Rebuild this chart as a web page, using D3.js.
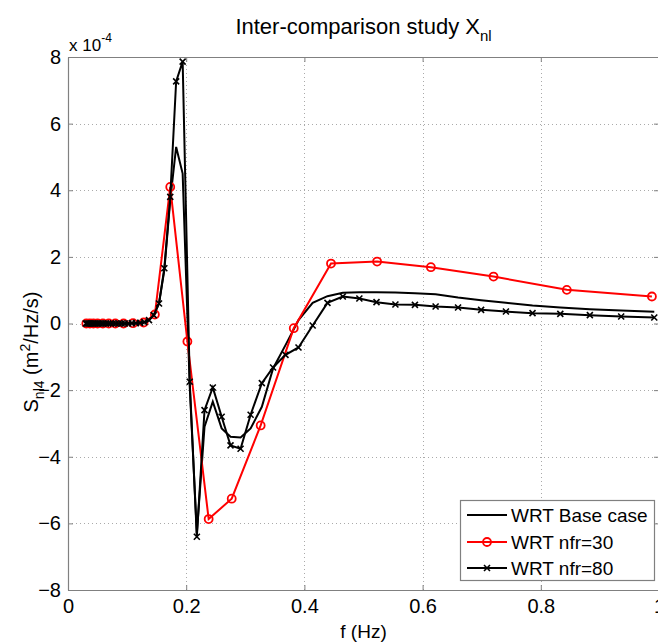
<!DOCTYPE html>
<html>
<head>
<meta charset="utf-8">
<script src="https://cdn.jsdelivr.net/npm/d3@7/dist/d3.min.js"></script>
<style>
  body { margin: 0; background: #fff; }
  text { font-family: "Liberation Sans", Arial, sans-serif; fill: #000; }
</style>
</head>
<body>
<script>
// frequency grids (Hz)
var freqFine = [0.030,0.032,0.034,0.036,0.038,0.040,0.043,0.045,0.048,0.051,0.054,0.057,0.060,0.064,0.068,0.072,0.076,0.081,0.086,0.091,0.096,
  0.102,0.108,0.115,0.122,0.129,0.137,0.145,0.154,0.163,0.173,
  0.183,0.194,0.206,0.218,0.231,0.245,0.260,0.275,0.292,0.309,
  0.328,0.347,0.368,0.390,0.414,0.439,0.465,0.493,0.522,0.554,
  0.587,0.622,0.660,0.699,0.741,0.786,0.833,0.883,0.936,0.992];
var freqCoarse = [0.031,0.037,0.043,0.050,0.059,0.069,0.080,0.094,0.110,0.128,0.147,0.173,0.202,0.238,0.277,0.326,0.382,0.445,0.523,0.614,0.720,0.844,0.988];

// Snl4 values, units of 1e-4 m^2/Hz/s
var baseCase = [0,0,0,0,0,0,0,0,0,0,0,0,0,0,0,0,0,0,0,0,0,
  0,0.01,0.01,0.02,0.04,0.1,0.25,0.6,1.6,3.7,
  5.3,4.5,-1.9,-6.3,-3.1,-2.35,-3.15,-3.4,-3.42,-3.15,
  -2.5,-1.35,-0.65,0.1,0.62,0.82,0.92,0.94,0.94,0.93,
  0.91,0.88,0.78,0.70,0.62,0.54,0.48,0.43,0.39,0.35];
var nfr30 = [0,0,0,0,0,0,0,0,0.01,0.03,0.27,4.1,-0.54,-5.87,-5.26,-3.06,-0.14,1.8,1.86,1.69,1.41,1.01,0.81];
var nfr80 = [0,0,0,0,0,0,0,0,0,0,0,0,0,0,0,0,0,0,0,0,0,
  0,0.01,0.01,0.02,0.04,0.1,0.25,0.6,1.66,3.8,
  7.27,7.86,-1.75,-6.4,-2.6,-1.92,-2.8,-3.66,-3.76,-2.74,
  -1.79,-1.32,-0.94,-0.72,-0.06,0.62,0.81,0.75,0.64,0.57,
  0.56,0.51,0.48,0.41,0.36,0.31,0.29,0.25,0.21,0.18];

var xTicks = [0, 0.2, 0.4, 0.6, 0.8, 1];
var yTicks = [-8, -6, -4, -2, 0, 2, 4, 6, 8];
var legendLabels = ["WRT Base case", "WRT nfr=30", "WRT nfr=80"];

var W = 658, H = 644;
// plot box (don't call these top/left: window.top is read-only)
var pL = 68, pR = 659, pT = 57, pB = 590;

var svg = d3.select("body").append("svg").attr("width", W).attr("height", H);

var x = d3.scaleLinear().domain([0, 1]).range([pL, pR]);
var y = d3.scaleLinear().domain([-8, 8]).range([pB, pT]);

// grid
var grid = svg.append("g").attr("stroke", "#aaa").attr("stroke-width", 1).attr("stroke-dasharray", "1,3");
grid.selectAll(".gx").data(xTicks.slice(1, -1)).enter().append("line")
  .attr("x1", d => Math.round(x(d)) + 0.5).attr("x2", d => Math.round(x(d)) + 0.5)
  .attr("y1", pT).attr("y2", pB);
grid.selectAll(".gy").data(yTicks.slice(1, -1)).enter().append("line")
  .attr("y1", d => Math.round(y(d)) + 0.5).attr("y2", d => Math.round(y(d)) + 0.5)
  .attr("x1", pL).attr("x2", pR);

// axes (ticks inside, like matlab)
var axB = d3.axisBottom(x).tickValues(xTicks).tickSizeInner(-5).tickSizeOuter(0).tickPadding(9).tickFormat(d3.format("~g"));
var axL = d3.axisLeft(y).tickValues(yTicks).tickSizeInner(-5).tickSizeOuter(0).tickPadding(7).tickFormat(d3.format("~g"));
var axT = d3.axisTop(x).tickValues(xTicks).tickSizeInner(-5).tickSizeOuter(0).tickFormat("");
var axR = d3.axisRight(y).tickValues(yTicks).tickSizeInner(-5).tickSizeOuter(0).tickFormat("");

function styleAxis(g) {
  g.select(".domain").attr("stroke", "#808080").attr("stroke-width", 1.2);
  g.selectAll(".tick line").attr("stroke", "#808080");
  g.selectAll(".tick text").style("font-size", "20px").attr("fill", "#000");
}
svg.append("g").attr("transform", "translate(0," + pB + ")").call(axB).call(styleAxis);
svg.append("g").attr("transform", "translate(" + pL + ",0)").call(axL).call(styleAxis);
svg.append("g").attr("transform", "translate(0," + pT + ")").call(axT).call(styleAxis);
svg.append("g").attr("transform", "translate(" + pR + ",0)").call(axR).call(styleAxis);

// clip
svg.append("clipPath").attr("id", "plotclip").append("rect")
  .attr("x", pL).attr("y", pT - 2).attr("width", pR - pL).attr("height", pB - pT + 4);
var plot = svg.append("g").attr("clip-path", "url(#plotclip)");

var line = d3.line().x(d => x(d[0])).y(d => y(d[1]));
var baseData = d3.zip(freqFine, baseCase);
var d30 = d3.zip(freqCoarse, nfr30);
var d80 = d3.zip(freqFine, nfr80);

plot.append("path").datum(baseData).attr("d", line)
  .attr("fill", "none").attr("stroke", "#000").attr("stroke-width", 2);

plot.append("path").datum(d30).attr("d", line)
  .attr("fill", "none").attr("stroke", "#ff0000").attr("stroke-width", 2);
plot.selectAll(".c30").data(d30).enter().append("circle")
  .attr("cx", d => x(d[0])).attr("cy", d => y(d[1])).attr("r", 4)
  .attr("fill", "none").attr("stroke", "#ff0000").attr("stroke-width", 1.8);

plot.append("path").datum(d80).attr("d", line)
  .attr("fill", "none").attr("stroke", "#000").attr("stroke-width", 2);
var s = 3;
plot.selectAll(".x80").data(d80).enter().append("path")
  .attr("d", d => {
    var cx = x(d[0]), cy = y(d[1]);
    return "M" + (cx - s) + "," + (cy - s) + "L" + (cx + s) + "," + (cy + s) +
           "M" + (cx - s) + "," + (cy + s) + "L" + (cx + s) + "," + (cy - s);
  })
  .attr("stroke", "#000").attr("stroke-width", 1.6);

// title
var title = svg.append("text").attr("x", (pL + pR) / 2).attr("y", 34)
  .attr("text-anchor", "middle").style("font-size", "22px");
title.append("tspan").text("Inter-comparison study X");
title.append("tspan").attr("dy", 7).style("font-size", "15px").text("nl");

// exponent
var expo = svg.append("text").attr("x", pL + 1).attr("y", 51).style("font-size", "17px");
expo.append("tspan").text("x 10");
expo.append("tspan").attr("dy", -9).style("font-size", "12px").text("-4");

// axis labels
svg.append("text").attr("x", (pL + pR) / 2).attr("y", 638)
  .attr("text-anchor", "middle").style("font-size", "19px").text("f (Hz)");

var yl = svg.append("text").attr("transform", "translate(38,352) rotate(-90)")
  .attr("text-anchor", "middle").style("font-size", "20px");
yl.append("tspan").text("S");
yl.append("tspan").attr("dy", 6).style("font-size", "14px").text("nl4");
yl.append("tspan").attr("dy", -6).text(" (m");
yl.append("tspan").attr("dy", -8).style("font-size", "14px").text("2");
yl.append("tspan").attr("dy", 8).text("/Hz/s)");

// legend
var lg = svg.append("g");
lg.append("rect").attr("x", 460.5).attr("y", 500.5).attr("width", 194).attr("height", 80)
  .attr("fill", "#fff").attr("stroke", "#808080").attr("stroke-width", 1.2);
var rowsY = [515, 542, 568];
var colors = ["#000", "#ff0000", "#000"];
legendLabels.forEach(function(lab, i) {
  var yy = rowsY[i];
  lg.append("line").attr("x1", 467).attr("x2", 507).attr("y1", yy).attr("y2", yy)
    .attr("stroke", colors[i]).attr("stroke-width", 2);
  if (i === 1) {
    lg.append("circle").attr("cx", 487).attr("cy", yy).attr("r", 4)
      .attr("fill", "none").attr("stroke", "#ff0000").attr("stroke-width", 1.8);
  }
  if (i === 2) {
    lg.append("path").attr("d", "M484," + (yy - 3) + "L490," + (yy + 3) + "M484," + (yy + 3) + "L490," + (yy - 3))
      .attr("stroke", "#000").attr("stroke-width", 1.6);
  }
  lg.append("text").attr("x", 511).attr("y", yy + 7).style("font-size", "19px").text(lab);
});
</script>
</body>
</html>
